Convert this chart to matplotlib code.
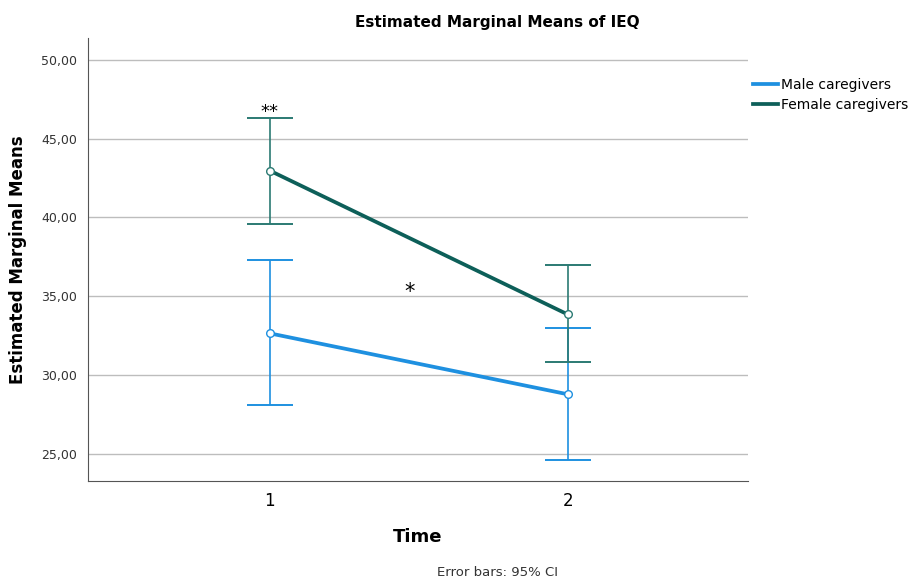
import matplotlib.pyplot as plt

# estimated marginal means of IEQ
times = [1, 2]
male_mean = [32.66, 28.80]
male_low = [28.10, 24.62]
male_high = [37.28, 32.97]
female_mean = [42.97, 33.86]
female_low = [39.56, 30.82]
female_high = [46.33, 36.96]

male_col = "#1e90e0"
female_col = "#0d5f59"
female_err = "#2b7a73"

fig = plt.figure(figsize=(9.19, 5.81), dpi=100)
ax = fig.add_axes([0.0958, 0.172, 0.718, 0.762])


def draw(mean, low, high, col, ecol, label):
    yerr = [[m - l for m, l in zip(mean, low)], [h - m for m, h in zip(mean, high)]]
    ax.errorbar(times, mean, yerr=yerr, fmt="none", ecolor=ecol, elinewidth=1.2,
                capsize=16.5, capthick=1.4, zorder=3)
    ax.plot(times, mean, color=col, lw=2.7, label=label, zorder=4)
    ax.plot(times, mean, "o", mfc="white", mec=ecol, ms=5.5, mew=1, zorder=5)


draw(male_mean, male_low, male_high, male_col, male_col, "Male caregivers")
draw(female_mean, female_low, female_high, female_col, female_err, "Female caregivers")

ax.text(1, 46.7, "**", ha="center", va="center", fontsize=13)
ax.text(1.47, 35.3, "*", ha="center", va="center", fontsize=15)

ax.set_xlim(0.39, 2.605)
ax.set_ylim(23.3, 51.35)
ax.set_xticks(times)
ax.set_xticklabels(["1", "2"], fontsize=12)
ax.set_yticks([25, 30, 35, 40, 45, 50])
ax.set_yticklabels(["25,00", "30,00", "35,00", "40,00", "45,00", "50,00"], fontsize=9, color="#333333")
ax.tick_params(axis="both", length=0, pad=8)
ax.grid(axis="y", color="#bdbdbd", lw=1)
ax.set_axisbelow(True)
for s in ["top", "right"]:
    ax.spines[s].set_visible(False)
for s in ["left", "bottom"]:
    ax.spines[s].set_color("#555555")

ax.set_ylabel("Estimated Marginal Means", fontsize=12, fontweight="bold", labelpad=10)
ax.set_xlabel("Time", fontsize=13, fontweight="bold", labelpad=13)
fig.text(0.541, 0.962, "Estimated Marginal Means of IEQ", ha="center", va="center",
         fontsize=11, fontweight="bold")
fig.text(0.541, 0.014, "Error bars: 95% CI", ha="center", va="center", fontsize=9.5, color="#333333")

ax.legend(loc="upper left", bbox_to_anchor=(0.995, 0.93), frameon=False, fontsize=10,
          handlelength=1.8, handletextpad=0.25, borderaxespad=0.2, labelspacing=0.45)

fig.savefig("out.png", dpi=100)
